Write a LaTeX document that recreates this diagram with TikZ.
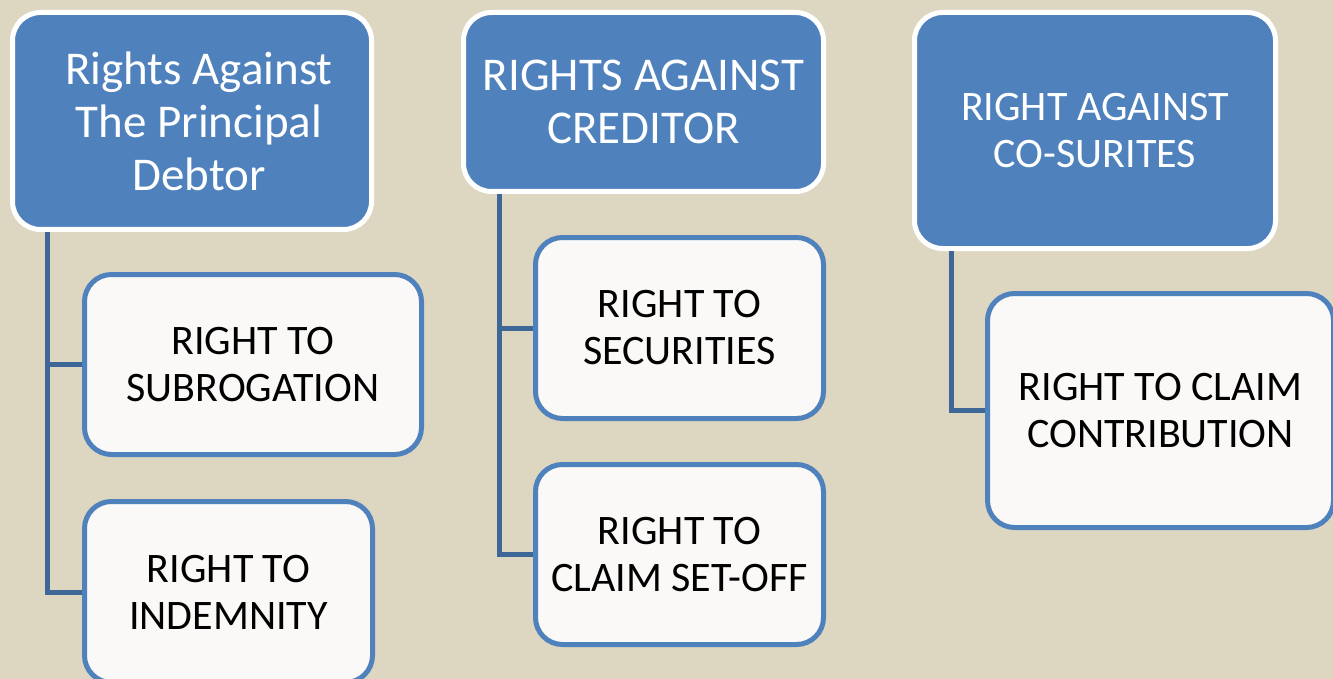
\documentclass[tikz,border=0pt]{standalone}
\usepackage{fontspec}
\setmainfont{Carlito}
\usetikzlibrary{positioning}
\definecolor{bgbeige}{HTML}{DDD6C1}
\definecolor{boxblue}{HTML}{4F81BD}
\definecolor{linkblue}{HTML}{3E6797}
\definecolor{paper}{HTML}{FAF9F7}

\begin{document}
\begin{tikzpicture}[
    x=1pt, y=1pt,
    align=center,
    head/.style={draw=white, fill=boxblue, line width=5pt, rounded corners=28pt, text=white, font=\fontsize{47}{53}\selectfont},
    child/.style={draw=boxblue, fill=paper, line width=5pt, rounded corners=27pt, text=black, font=\fontsize{42}{47}\selectfont},
    link/.style={draw=linkblue, line width=5pt}
]

% Background
\fill [bgbeige] (0,0) rectangle (1333,-679);
\useasboundingbox (0,0) rectangle (1333,-679);

% Nodes
\node (debtor) [head, minimum width=359pt, minimum height=217pt] at (192,-121) {\hspace*{14pt}Rights Against\\\hspace*{14pt}The Principal\\\hspace*{14pt}Debtor};
\node (creditor) [head, minimum width=360pt, minimum height=179pt] at (643.5,-102) {RIGHTS AGAINST\\CREDITOR};
\node (cosurety) [head, minimum width=361pt, minimum height=236pt, font=\fontsize{42}{47}\selectfont] at (1095,-130.5) {RIGHT AGAINST\\CO-SURITES};

\node (subrog) [child, minimum width=337pt, minimum height=180pt] at (253,-364.5) {RIGHT TO\\SUBROGATION};
\node (indem) [child, minimum width=288pt, minimum height=181pt, below=42pt of subrog.south west, anchor=north west] {RIGHT TO\\INDEMNITY};
\node (secur) [child, minimum width=288pt, minimum height=181pt] at (679.5,-328) {RIGHT TO\\SECURITIES};
\node (setoff) [child, minimum width=288pt, minimum height=180pt, below=41pt of secur] {RIGHT TO\\CLAIM SET-OFF};
\node (contrib) [child, minimum width=346pt, minimum height=234pt] at (1160.5,-410.5) {RIGHT TO CLAIM\\CONTRIBUTION};

% Edges
\draw [link] ([xshift=37.5pt]debtor.south west) |- (subrog.west);
\draw [link] ([xshift=37.5pt]debtor.south west) |- (indem.west);
\draw [link] ([xshift=38pt]creditor.south west) |- (secur.west);
\draw [link] ([xshift=38pt]creditor.south west) |- (setoff.west);
\draw [link] ([xshift=39pt]cosurety.south west) |- (contrib.west);

\end{tikzpicture}
\end{document}
